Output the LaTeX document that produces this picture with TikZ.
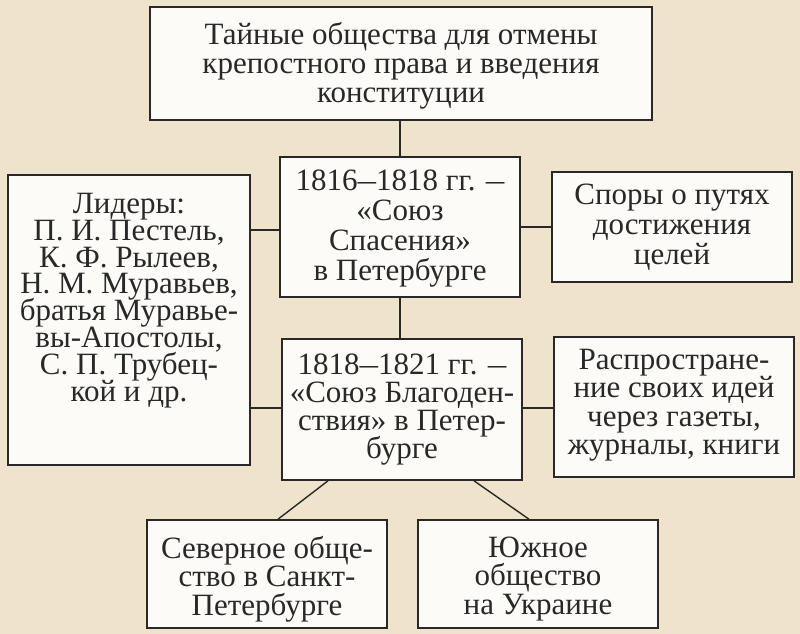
\documentclass[tikz,border=0pt]{standalone}
\usepackage{fontspec}
\setmainfont{Liberation Serif}
\definecolor{bg}{RGB}{240,227,203}
\definecolor{boxfill}{RGB}{252,251,247}
\definecolor{ink}{RGB}{40,40,40}
\newcommand\shdash{\scalebox{0.6}[1]{—}}
\newcommand\tfont[1]{\fontsize{31}{#1}\selectfont\lineskiplimit=-40pt\relax}
\tikzset{
  box/.style={draw=ink, line width=1.6pt, fill=boxfill, inner sep=0pt},
  txt/.style={text=ink, inner sep=0pt, align=center, font=\tfont{29.5}},
  link/.style={draw=ink, line width=1.4pt}
}
\begin{document}
\begin{tikzpicture}[x=1pt,y=-1pt]
\fill[bg] (0,0) rectangle (800,634);
\useasboundingbox (0,0) rectangle (800,634);
\node[box, minimum width=502pt, minimum height=113pt] (top) at (401,63.5) {};
\node[txt, font=\tfont{29}, yshift=-2pt] (topT) at (top.center)
  {Тайные общества для отмены\\крепостного права и введения\\конституции};
\node[box, minimum width=240pt, minimum height=140pt] (c1) at (400,227) {};
\node[txt, font=\tfont{30}, yshift=-2pt] (c1T) at (c1.center)
  {1816\shdash1818 гг. \shdash\\«Союз\\Спасения»\\в Петербурге};
\node[box, minimum width=240pt, minimum height=141pt] (c2) at (402,409.5) {};
\node[txt, font=\tfont{28}, yshift=0pt] (c2T) at (c2.center)
  {1818\shdash1821 гг. \shdash\\«Союз Благоден-\\ствия» в Петер-\\бурге};
\node[box, minimum width=242pt, minimum height=290pt] (left) at (129,320) {};
\node[txt, font=\tfont{26.85}, yshift=19.5pt] (leftT) at (left.center)
  {Лидеры:\\П. И. Пестель,\\К. Ф. Рылеев,\\Н. М. Муравьев,\\братья Муравье-\\вы-Апостолы,\\С. П. Трубец-\\кой и др.};
\node[box, minimum width=240pt, minimum height=110pt] (r1) at (672,227) {};
\node[txt, font=\tfont{30}] (r1T) at (r1.center)
  {Споры о путях\\достижения\\целей};
\node[box, minimum width=240pt, minimum height=140pt] (r2) at (674,407) {};
\node[txt, font=\tfont{28.5}, yshift=2pt] (r2T) at (r2.center)
  {Распростране-\\ние своих идей\\через газеты,\\журналы, книги};
\node[box, minimum width=240pt, minimum height=108pt] (sev) at (267,574) {};
\node[txt, font=\tfont{28.5}, yshift=-5pt] (sevT) at (sev.center)
  {Северное обще-\\ство в Санкт-\\Петербурге};
\node[box, minimum width=240pt, minimum height=108pt] (yuz) at (538,574) {};
\node[txt, font=\tfont{28.5}, yshift=-5pt] (yuzT) at (yuz.center)
  {Южное\\общество\\на Украине};
\path[link] (top.south -| 400,0) -- (c1.north -| 400,0);
\path[link] (c1.south -| 400,0) -- (c2.north -| 400,0);
\path[link] (left.east |- 0,230) -- (c1.west |- 0,230);
\path[link] (left.east |- 0,408) -- (c2.west |- 0,408);
\path[link] (c1.east |- 0,227) -- (r1.west |- 0,227);
\path[link] (c2.east |- 0,408) -- (r2.west |- 0,408);
\path[link] (c2.south -| 328,0) -- (sev.north -| 278,0);
\path[link] (c2.south -| 474,0) -- (yuz.north -| 529,0);
\end{tikzpicture}
\end{document}
